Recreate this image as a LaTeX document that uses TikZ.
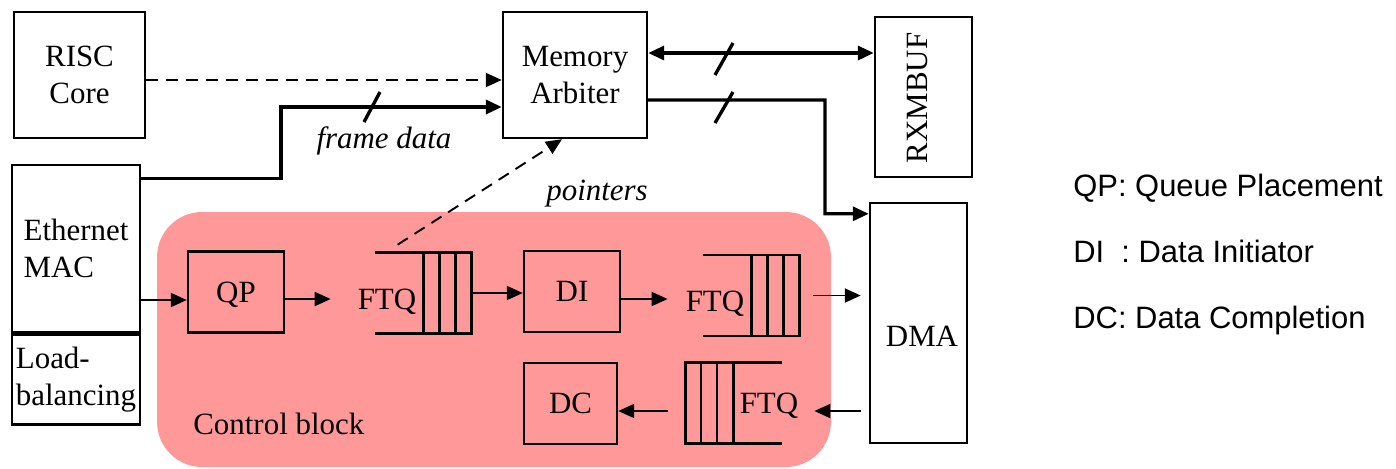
\documentclass[tikz,border=0pt]{standalone}
\usepackage{fontspec}
\setmainfont{Liberation Serif}
\newfontfamily\legendfont{Liberation Sans}
\usepackage{tikz}
\usetikzlibrary{arrows.meta,positioning,calc}
\definecolor{ctrlpink}{RGB}{255,153,153}
\newcommand{\diagfont}{\fontsize{17.6}{21.2}\selectfont}

\begin{document}
\begin{tikzpicture}[
        x=0.02cm, y=-0.02cm,
        font=\diagfont,
        >={Triangle[length=0.32cm,width=0.28cm]},
        % plain frames, no fill so the control block shows through
        box/.style={draw, line width=1.4pt, inner sep=0pt, align=center},
        unit/.style={box, minimum width=1.92cm, minimum height=1.62cm, text depth=0pt},
        queue/.style={minimum width=1.92cm, minimum height=1.6cm, inner sep=0pt},
        qline/.style={line width=1.4pt},
        lbl/.style={inner sep=0pt},
        flow/.style={->, line width=1.1pt},
        bus/.style={line width=1.9pt},
        ctl/.style={line width=1.1pt, dash pattern=on 0.24cm off 0.16cm}
    ]
        \useasboundingbox (0,0) rectangle (1396,468);

        % Control block
        \node[fill=ctrlpink, rounded corners=0.9cm, inner sep=0pt,
            minimum width=13.48cm, minimum height=5.1cm] (ctrl) at (494,339.5) {};
        \node[lbl, anchor=base west] (ctrllbl) at (193,434) {Control block};

        \node[box, minimum width=2.62cm, minimum height=2.52cm] (risc) at (79.5,75) {RISC\\Core};
        \node[box, minimum width=2.88cm, minimum height=2.52cm] (arb) at (575,75) {Memory\\Arbiter};
        \node[box, minimum width=1.94cm, minimum height=3.2cm] (rxm) at (923.5,97) {};
        \node[lbl, rotate=90] (rxmlbl) at (918,98) {RXMBUF};
        \node[box, align=left, minimum width=2.56cm, minimum height=3.34cm] (eth) at (76,248.5) {Ethernet\\MAC};
        \node[box, align=left, minimum width=2.56cm, minimum height=1.8cm, below=0pt of eth] (lb) {Load-\\balancing};
        \node[box, minimum width=1.94cm, minimum height=4.8cm] (dma) at (918.5,323) {};
        \node[lbl] (dmalbl) at (922,336) {DMA};

        \node[unit] (qp) at (236,292) {QP};
        \node[unit] (di) at (572,291.5) {DI};
        \node[unit, minimum width=1.86cm] (dc) at (570.5,403.5) {DC};

        % FTQ queues
        \node[queue] (fa) at (423,293) {};
        \node[queue] (fb) at (751,295.5) {};
        \node[queue] (fc) at (734,403) {};
        \foreach \q in {fa,fb}{
            \draw[qline] (\q.north west) -- (\q.north east) -- (\q.south east) -- (\q.south west);
            \foreach \d in {0.32cm,0.64cm,0.96cm}
                \draw[qline] ([xshift=-\d]\q.north east) -- ([xshift=-\d]\q.south east);
        }
        \draw[qline] (fc.north east) -- (fc.north west) -- (fc.south west) -- (fc.south east);
        \foreach \d in {0.31cm,0.63cm,0.96cm}
            \draw[qline] ([xshift=\d]fc.north west) -- ([xshift=\d]fc.south west);
        \node[lbl, anchor=base] (ta) at (387,309) {FTQ};
        \node[lbl, anchor=base] (tb) at (715,311) {FTQ};
        \node[lbl, anchor=base] (tc) at (769,413) {FTQ};

        % Connections
        \draw[ctl, ->] ([yshift=-0.1cm]risc.east) -- ([yshift=-0.1cm]arb.west);

        \coordinate (fdbend) at (281,107);
        \draw[bus, ->] ([yshift=-0.3cm]eth.north east) -| (fdbend) -- (fdbend -| arb.west);
        \draw[bus] (fdbend) ++(91,0) ++(-8,15) -- ++(16,-30);
        \node[lbl, anchor=base, font=\diagfont\itshape] (fdlbl) at (384,148) {frame data};

        \draw[ctl, ->] ([xshift=0.46cm,yshift=0.16cm]fa.north west) -- ([xshift=-0.26cm]arb.south);
        \node[lbl, anchor=base, font=\diagfont\itshape] (ptrlbl) at (597,200) {pointers};

        \draw[bus, <->] ([yshift=0.44cm]arb.east) -- ([yshift=0.44cm]arb.east -| rxm.west);
        \draw[bus] (724,59) ++(-9,16) -- ++(18,-32);

        \coordinate (dmabend) at (825,100);
        \draw[bus, ->] ([yshift=-0.5cm]arb.east) -- (dmabend) |- ([yshift=-0.24cm]dma.north west);
        \draw[bus] (724,107.5) ++(-9,15.5) -- ++(18,-31);

        \coordinate (qpin) at ([yshift=-0.16cm]qp.west);
        \draw[flow] (qpin -| eth.east) -- (qpin);
        \coordinate (qpout) at ([yshift=-0.14cm]qp.east);
        \draw[flow, shorten >=0.88cm] (qpout) -- (qpout -| fa.west);
        \draw[flow] (fa.east) -- (fa.east -| di.west);
        \coordinate (diout) at ([yshift=-0.15cm]di.east);
        \draw[flow, shorten >=0.7cm] (diout) -- (diout -| fb.west);
        \draw[flow, shorten <=0.28cm, shorten >=0.16cm] (fb.east) -- (fb.east -| dma.west);
        \coordinate (fcin) at ([yshift=-0.16cm]fc.east);
        \draw[flow, shorten <=0.16cm, shorten >=0.64cm] (fcin -| dma.west) -- (fcin);
        \draw[flow, shorten <=0.36cm] (fcin -| fc.west) -- (fcin -| dc.east);

        % Legend
        \node[lbl, anchor=base west, font=\legendfont\diagfont] (legqp) at (1073,196) {QP: Queue Placement};
        \node[lbl, anchor=base west, font=\legendfont\diagfont] (legdi) at (1073,262) {DI\ \ : Data Initiator};
        \node[lbl, anchor=base west, font=\legendfont\diagfont] (legdc) at (1073,328) {DC: Data Completion};
    \end{tikzpicture}
\end{document}
